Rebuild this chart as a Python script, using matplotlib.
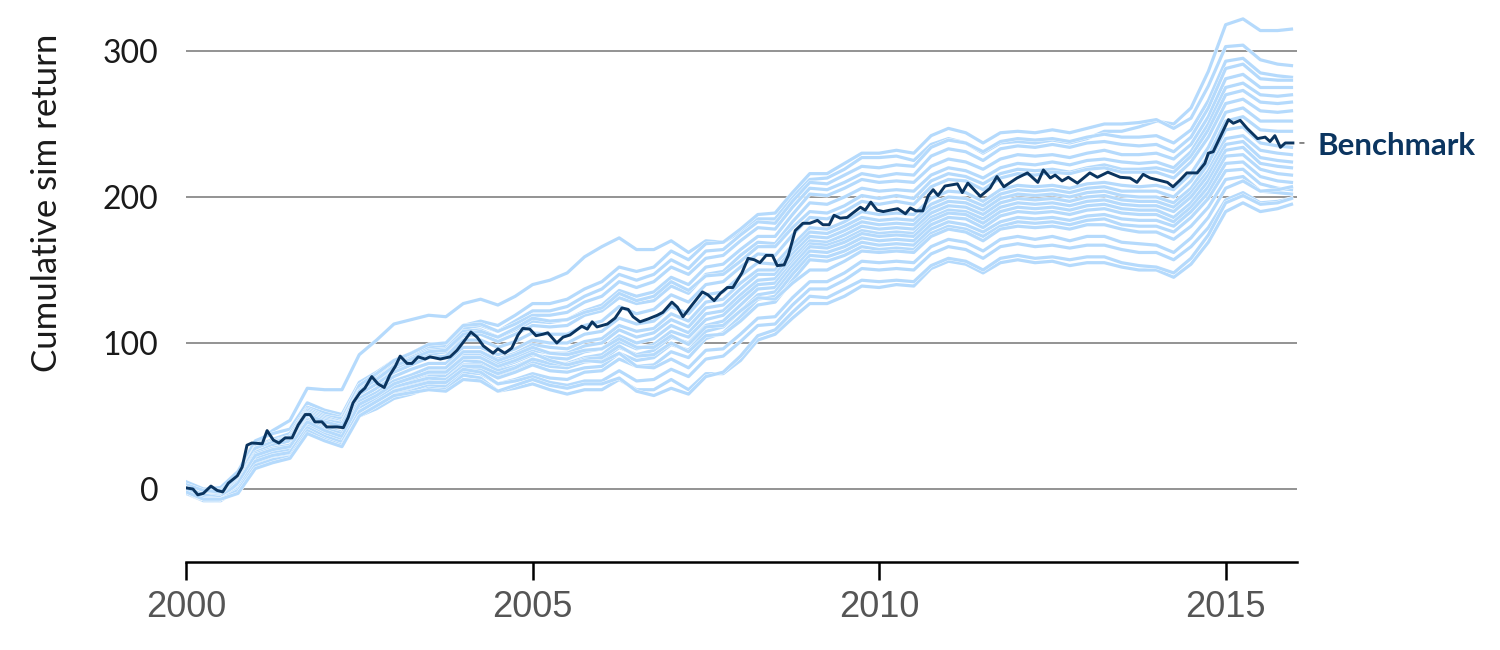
import matplotlib
matplotlib.use("Agg")
import matplotlib.pyplot as plt
import matplotlib.patheffects as pe

plt.rcParams['font.family'] = ['Lato', 'DejaVu Sans']

# Benchmark (decimal year, cumulative return)
bench_year = [2000.01, 2000.10, 2000.17, 2000.25, 2000.36, 2000.45, 2000.53, 2000.61, 2000.74, 2000.81,
              2000.88, 2000.95, 2001.10, 2001.17, 2001.26, 2001.34, 2001.43, 2001.53, 2001.62, 2001.72,
              2001.79, 2001.86, 2001.96, 2002.03, 2002.18, 2002.27, 2002.34, 2002.41, 2002.51, 2002.58,
              2002.68, 2002.77, 2002.86, 2002.94, 2003.02, 2003.09, 2003.19, 2003.26, 2003.35, 2003.45,
              2003.52, 2003.67, 2003.81, 2003.91, 2004.00, 2004.11, 2004.20, 2004.29, 2004.43, 2004.50,
              2004.60, 2004.70, 2004.79, 2004.86, 2004.96, 2005.05, 2005.15, 2005.22, 2005.35, 2005.44,
              2005.54, 2005.64, 2005.71, 2005.79, 2005.86, 2005.93, 2006.08, 2006.19, 2006.29, 2006.38,
              2006.45, 2006.55, 2006.67, 2006.80, 2006.88, 2007.01, 2007.09, 2007.17, 2007.30, 2007.45,
              2007.53, 2007.62, 2007.71, 2007.81, 2007.89, 2008.02, 2008.11, 2008.20, 2008.28, 2008.37,
              2008.46, 2008.53, 2008.63, 2008.69, 2008.79, 2008.90, 2009.00, 2009.11, 2009.19, 2009.28,
              2009.35, 2009.44, 2009.54, 2009.62, 2009.73, 2009.80, 2009.88, 2009.97, 2010.06, 2010.16,
              2010.27, 2010.38, 2010.45, 2010.53, 2010.63, 2010.71, 2010.78, 2010.85, 2010.95, 2011.13,
              2011.20, 2011.28, 2011.46, 2011.60, 2011.70, 2011.80, 2011.99, 2012.14, 2012.29, 2012.37,
              2012.47, 2012.54, 2012.64, 2012.73, 2012.86, 2013.04, 2013.15, 2013.30, 2013.48, 2013.62,
              2013.72, 2013.81, 2013.91, 2014.16, 2014.24, 2014.34, 2014.44, 2014.59, 2014.70, 2014.75,
              2014.82, 2014.92, 2015.04, 2015.11, 2015.21, 2015.31, 2015.46, 2015.57, 2015.64, 2015.71,
              2015.79, 2015.86, 2015.97]
bench_value = [0.7, 0, -4, -3, 2, -1, -2, 4, 9, 15,
               30, 31.5, 31, 40, 33.5, 31.5, 35, 35, 44, 51,
               51, 46, 46, 42.5, 42.5, 42, 49, 59, 66, 69,
               77, 72, 69.5, 78, 84, 91, 86, 86, 90.5, 89,
               90.5, 89, 90.5, 95, 100.5, 107.5, 104, 98, 93, 96,
               93, 96.5, 105.5, 110, 109.5, 105, 106, 107, 100, 104,
               105.5, 109, 111.5, 109.5, 114.5, 111, 113, 117, 124, 123,
               118, 114.5, 116.5, 119, 121, 128, 124.5, 118, 126, 135,
               133, 129, 134, 138, 138, 148, 158, 157, 155, 160,
               160, 153, 153.5, 160, 177, 182, 182, 184, 181, 181,
               187.5, 185.5, 186, 189, 193, 191, 196.5, 191, 190, 191,
               192, 188.5, 192.5, 190.5, 190.5, 201, 205, 201, 207.5, 209,
               203, 209.5, 200.5, 206, 214, 207, 213, 216.5, 210, 218.5,
               213, 215, 211, 213.5, 209.5, 216.5, 213.5, 217, 213.5, 213,
               210, 215.5, 213, 210, 207, 211.5, 216.5, 216.5, 223, 230,
               231, 241, 253, 250.5, 252.5, 247, 240, 241, 238, 242,
               234, 237, 237]

# Simulated paths, read quarterly off the chart
sim_year = [2000 + q / 4 for q in range(64)] + [2015.95]

sim_01 = [2, -1, -1, 10, 31, 40, 47, 69, 68, 68, 92, 102, 113, 116, 119, 118,
          127, 130, 126, 132, 140, 143, 148, 159, 166, 172, 164, 164, 170, 162, 170, 169,
          176, 185, 185, 200, 212, 213, 219, 227, 227, 228, 225, 236, 240, 237, 230, 237,
          238, 237, 239, 237, 240, 245, 245, 248, 252, 250, 261, 286, 318, 322, 314, 314, 315]
sim_02 = [4, 0, 1, 12, 33, 38, 41, 59, 54, 51, 73, 80, 88, 93, 99, 100,
          112, 115, 112, 119, 127, 127, 130, 137, 142, 152, 149, 152, 163, 157, 168, 169,
          178, 188, 189, 203, 216, 216, 223, 230, 230, 232, 230, 242, 247, 244, 237, 244,
          245, 244, 246, 244, 247, 250, 250, 251, 253, 247, 254, 276, 303, 304, 294, 291, 290]
sim_03 = [3, -1, -2, 9, 29, 34, 38, 56, 52, 49, 71, 78, 86, 91, 97, 98,
          110, 112, 108, 115, 122, 122, 125, 132, 137, 147, 143, 147, 157, 151, 163, 164,
          174, 183, 182, 197, 210, 209, 215, 221, 220, 222, 221, 234, 239, 237, 231, 238,
          240, 239, 240, 238, 241, 243, 241, 241, 242, 237, 246, 266, 293, 295, 285, 283, 282]
sim_04 = [5, 0, -1, 9, 28, 33, 36, 55, 50, 48, 71, 79, 88, 93, 99, 100,
          112, 113, 108, 113, 119, 119, 121, 128, 132, 142, 138, 142, 152, 147, 158, 160,
          170, 179, 178, 193, 206, 205, 210, 216, 214, 216, 215, 228, 233, 231, 225, 233,
          235, 234, 236, 234, 237, 238, 236, 235, 236, 231, 241, 261, 288, 291, 281, 280, 280]
sim_05 = [1, -3, -4, 7, 27, 32, 36, 54, 49, 46, 68, 76, 84, 90, 95, 96,
          108, 109, 104, 109, 115, 114, 116, 122, 126, 136, 132, 135, 145, 140, 152, 154,
          164, 173, 173, 188, 202, 201, 206, 212, 210, 211, 210, 221, 226, 224, 219, 226,
          229, 228, 229, 227, 230, 232, 229, 229, 230, 226, 236, 255, 281, 284, 275, 275, 275]
sim_06 = [2, -3, -3, 7, 26, 31, 34, 53, 48, 45, 67, 74, 82, 87, 92, 94,
          105, 106, 101, 106, 112, 111, 112, 119, 122, 131, 127, 129, 139, 134, 147, 149,
          160, 169, 168, 183, 196, 195, 200, 206, 204, 205, 204, 215, 220, 218, 213, 220,
          223, 222, 224, 222, 225, 226, 224, 223, 224, 220, 231, 250, 275, 278, 270, 269, 270]
sim_07 = [3, -1, -2, 8, 28, 32, 35, 52, 47, 45, 67, 75, 84, 89, 94, 95,
          106, 108, 104, 110, 117, 115, 116, 121, 124, 134, 129, 132, 142, 136, 146, 147,
          156, 166, 166, 179, 190, 189, 194, 201, 199, 201, 199, 211, 216, 214, 209, 216,
          219, 218, 219, 217, 220, 222, 219, 219, 220, 217, 228, 246, 270, 273, 265, 264, 265]
sim_08 = [0, -4, -5, 6, 25, 30, 33, 51, 46, 43, 65, 72, 80, 85, 90, 91,
          102, 102, 97, 101, 107, 106, 106, 112, 115, 125, 120, 123, 133, 128, 140, 142,
          152, 161, 160, 174, 186, 185, 190, 197, 195, 197, 195, 207, 212, 211, 205, 213,
          216, 215, 217, 216, 219, 220, 217, 217, 217, 213, 224, 241, 264, 267, 259, 258, 259]
sim_09 = [-1, -6, -6, 4, 23, 28, 30, 48, 42, 39, 62, 69, 77, 82, 86, 86,
          97, 97, 92, 96, 102, 100, 100, 106, 108, 117, 113, 115, 125, 120, 133, 135,
          146, 155, 154, 167, 179, 178, 183, 190, 188, 189, 188, 199, 204, 203, 197, 205,
          208, 207, 208, 206, 209, 210, 208, 207, 208, 205, 216, 234, 258, 261, 252, 252, 252]
sim_10 = [-2, -7, -8, 3, 22, 26, 28, 45, 39, 36, 58, 66, 74, 78, 83, 83,
          94, 94, 89, 93, 99, 97, 96, 101, 103, 112, 108, 110, 120, 115, 128, 130,
          141, 150, 150, 164, 176, 175, 180, 186, 184, 185, 184, 195, 200, 199, 194, 202,
          205, 204, 205, 203, 206, 207, 204, 204, 204, 200, 211, 228, 252, 255, 246, 245, 245]
sim_11 = [1, -5, -6, 3, 21, 26, 28, 46, 40, 36, 58, 64, 72, 76, 81, 81,
          92, 92, 86, 90, 95, 93, 93, 98, 100, 109, 104, 107, 116, 111, 124, 126,
          137, 147, 147, 161, 173, 172, 177, 183, 181, 182, 181, 192, 197, 196, 191, 199,
          202, 201, 202, 200, 203, 204, 201, 200, 200, 196, 206, 223, 246, 248, 237, 235, 234]
sim_12 = [-3, -8, -8, 1, 20, 24, 26, 44, 38, 34, 56, 62, 70, 74, 79, 79,
          90, 90, 83, 87, 92, 90, 89, 94, 96, 105, 100, 103, 112, 107, 120, 122,
          133, 143, 144, 158, 170, 169, 174, 180, 178, 179, 178, 189, 194, 193, 188, 196,
          199, 198, 199, 197, 200, 201, 198, 197, 197, 193, 203, 218, 240, 242, 232, 230, 229]
sim_13 = [-1, -7, -8, 1, 19, 23, 26, 43, 37, 33, 54, 61, 68, 72, 77, 77,
          88, 87, 81, 84, 89, 86, 86, 90, 92, 101, 96, 99, 108, 104, 116, 119,
          130, 140, 141, 155, 168, 167, 171, 177, 175, 176, 175, 186, 191, 190, 185, 193,
          196, 195, 196, 194, 197, 198, 195, 194, 194, 190, 200, 215, 236, 238, 227, 225, 224]
sim_14 = [-2, -8, -8, 0, 18, 22, 24, 42, 36, 32, 53, 60, 67, 71, 75, 75,
          85, 85, 78, 82, 87, 84, 83, 87, 88, 97, 92, 95, 104, 100, 112, 115,
          126, 137, 138, 153, 166, 165, 169, 175, 173, 174, 173, 184, 189, 188, 182, 190,
          193, 192, 193, 191, 194, 195, 192, 191, 191, 186, 196, 211, 232, 234, 223, 221, 220]
sim_15 = [0, -6, -7, -1, 17, 21, 23, 40, 34, 30, 51, 58, 65, 69, 72, 72,
          82, 82, 76, 80, 85, 81, 80, 83, 84, 93, 88, 90, 99, 95, 108, 111,
          122, 133, 135, 150, 163, 162, 166, 172, 170, 171, 170, 181, 186, 185, 179, 187,
          190, 189, 190, 188, 191, 192, 189, 188, 188, 183, 193, 207, 228, 229, 219, 216, 215]
sim_16 = [-3, -7, -7, 0, 15, 20, 22, 40, 35, 31, 51, 57, 64, 67, 71, 70,
          80, 79, 72, 75, 79, 76, 75, 80, 81, 89, 84, 85, 94, 90, 103, 107,
          118, 130, 132, 147, 160, 159, 163, 169, 167, 168, 167, 178, 183, 181, 176, 183,
          186, 185, 186, 184, 187, 188, 185, 184, 184, 180, 190, 203, 223, 224, 214, 211, 210]
sim_17 = [-1, -6, -7, 2, 21, 25, 27, 44, 38, 34, 56, 62, 70, 73, 76, 75,
          84, 84, 79, 83, 89, 86, 85, 89, 90, 98, 91, 92, 100, 94, 105, 106,
          115, 126, 128, 143, 157, 156, 160, 166, 164, 165, 164, 175, 180, 178, 173, 180,
          183, 182, 183, 181, 184, 185, 181, 180, 180, 176, 186, 199, 218, 219, 209, 206, 205]
sim_18 = [1, -4, -5, 5, 24, 28, 30, 47, 41, 38, 60, 66, 74, 78, 83, 83,
          94, 94, 88, 92, 97, 93, 92, 95, 96, 103, 97, 97, 105, 99, 111, 112,
          122, 131, 130, 141, 150, 150, 156, 163, 162, 163, 162, 173, 178, 176, 170, 178,
          180, 179, 180, 178, 181, 181, 178, 176, 176, 171, 180, 193, 212, 214, 204, 203, 202]
sim_19 = [1, -4, -6, 4, 23, 27, 29, 46, 40, 36, 58, 64, 72, 76, 80, 80,
          90, 90, 84, 88, 93, 88, 85, 88, 87, 93, 84, 83, 89, 83, 95, 96,
          106, 117, 118, 131, 142, 142, 148, 156, 155, 156, 155, 166, 171, 169, 163, 171,
          173, 171, 173, 170, 173, 173, 169, 168, 167, 162, 172, 186, 206, 211, 204, 205, 207]
sim_20 = [-2, -7, -7, 0, 19, 23, 25, 42, 36, 32, 53, 60, 67, 70, 73, 73,
          82, 80, 72, 74, 77, 73, 71, 74, 74, 81, 74, 75, 82, 77, 89, 91,
          101, 112, 113, 126, 137, 137, 143, 151, 150, 151, 150, 161, 166, 164, 158, 166,
          168, 166, 167, 165, 167, 167, 164, 162, 162, 157, 166, 179, 198, 203, 196, 197, 199]
sim_21 = [0, -6, -7, -1, 16, 20, 22, 40, 34, 30, 50, 55, 62, 65, 69, 68,
          78, 76, 67, 69, 72, 68, 65, 68, 68, 75, 68, 68, 75, 68, 79, 79,
          88, 102, 106, 117, 127, 127, 132, 139, 138, 140, 139, 151, 156, 154, 148, 155,
          157, 155, 156, 153, 155, 155, 152, 150, 150, 145, 154, 169, 190, 196, 190, 192, 195]
sim_22 = [-2, -7, -7, -3, 14, 18, 21, 38, 33, 29, 50, 57, 64, 66, 68, 67,
          75, 74, 67, 71, 75, 71, 69, 72, 72, 76, 67, 64, 69, 65, 77, 80,
          91, 105, 109, 121, 132, 131, 137, 143, 142, 143, 142, 153, 158, 156, 150, 158,
          160, 158, 159, 157, 159, 159, 155, 153, 152, 148, 158, 174, 196, 201, 195, 196, 199]

sims = [sim_01, sim_02, sim_03, sim_04, sim_05, sim_06, sim_07, sim_08, sim_09, sim_10, sim_11,
        sim_12, sim_13, sim_14, sim_15, sim_16, sim_17, sim_18, sim_19, sim_20, sim_21, sim_22]

x_ticks = [2000, 2005, 2010, 2015]
y_ticks = [0, 100, 200, 300]

sim_color = '#b5dafc'
bench_color = '#0b3560'

fig = plt.figure(figsize=(15, 6.5), dpi=100)
ax = fig.add_axes([0.124, 0.1354, 0.7407, 0.8423])

for s in sims:
    assert len(s) == len(sim_year), len(s)
    ax.plot(sim_year, s, color=sim_color, lw=2.3, zorder=2,
            path_effects=[pe.Stroke(linewidth=2.8, foreground='white'), pe.Normal()],
            solid_joinstyle='round')

ax.plot(bench_year, bench_value, color=bench_color, lw=2.1, zorder=4, solid_joinstyle='round')

ax.set_xlim(2000, 2016.03)
ax.set_ylim(-50, 325)
ax.set_xticks(x_ticks)
ax.set_xticklabels([str(t) for t in x_ticks], family=['Liberation Sans', 'DejaVu Sans'])
ax.set_yticks(y_ticks)

ax.yaxis.grid(True, color='#8a8a8a', lw=1.3, zorder=0)
ax.set_axisbelow(True)
for side in ['left', 'right', 'top']:
    ax.spines[side].set_visible(False)
ax.spines['bottom'].set_linewidth(1.8)
ax.spines['bottom'].set_color('black')

ax.tick_params(axis='y', length=0, pad=20, labelsize=23, labelcolor='#1a1a1a')
ax.tick_params(axis='x', length=13, width=1.8, pad=7, labelsize=26, labelcolor='#555555', color='black')

ax.set_ylabel('Cumulative sim return', fontsize=25, color='#1a1a1a')
ax.yaxis.set_label_coords(-0.111, 0.656)

# label for the benchmark line at its last value
ax.annotate('', xy=(1.0, bench_value[-1]), xycoords=('axes fraction', 'data'),
            xytext=(7, 0), textcoords='offset points',
            arrowprops=dict(arrowstyle='-', color='#555555', lw=1.0), annotation_clip=False)
ax.annotate('Benchmark', xy=(1.0, bench_value[-1]), xycoords=('axes fraction', 'data'),
            xytext=(15, -2), textcoords='offset points', va='center', ha='left',
            fontsize=22.5, fontweight='bold', color=bench_color, annotation_clip=False)

fig.savefig('out.png', dpi=100)
